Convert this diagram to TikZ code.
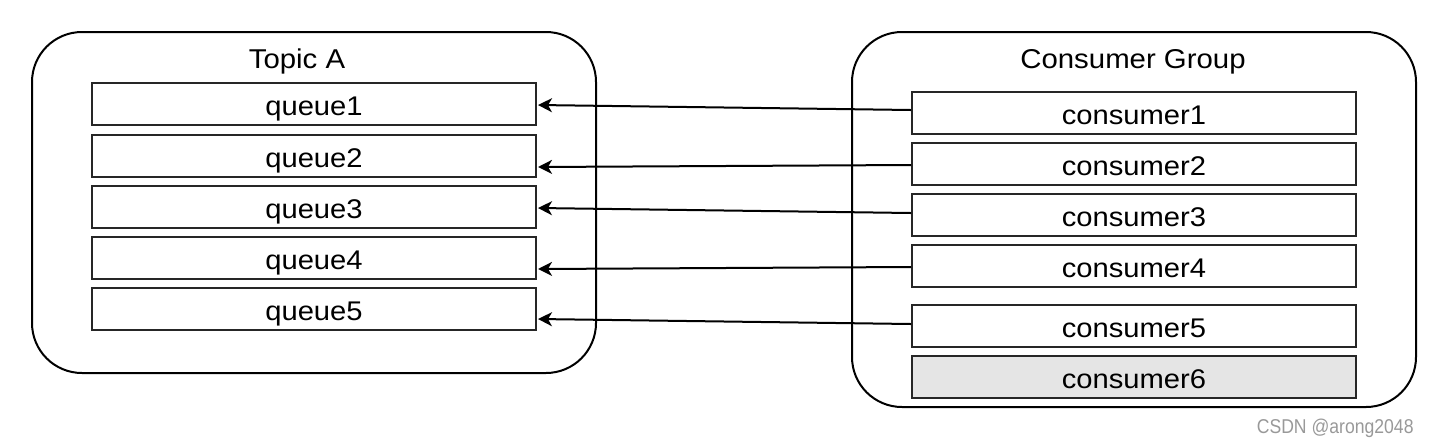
\documentclass[tikz,border=0pt]{standalone}
\usepackage{fontspec}
\setmainfont{Liberation Sans}[FakeStretch=1.08]
\newfontfamily\wmfont{Liberation Sans}[FakeStretch=0.88]
\usetikzlibrary{arrows.meta}
\begin{document}
\begin{tikzpicture}[x=0.5pt,y=-0.5pt,
  container/.style={draw=black,line width=1pt,rounded corners=25pt},
  itembox/.style={draw=black!85,line width=1pt,fill=white,minimum width=222pt,minimum height=21pt,
    inner sep=0pt,text height=11.5pt,text depth=0pt,font=\fontsize{13.5pt}{15pt}\selectfont},
  idlebox/.style={itembox,fill=black!10},
  title/.style={font=\fontsize{13.6pt}{15pt}\selectfont,anchor=base,inner sep=0pt},
  arr/.style={line width=1pt,-{Stealth[length=7pt,width=7pt,inset=2pt]}},
  wm/.style={font=\wmfont\fontsize{10pt}{11pt}\selectfont,text=black!40,anchor=base east,inner sep=0pt}]
\useasboundingbox (0,0) rectangle (1430,446);
% containers
\draw[container] (32,32) rectangle (596,373);
\draw[container] (852,32) rectangle (1416,407);
\node[title] (topic) at (297,68) {Topic A};
\node[title] (group) at (1133,68) {Consumer Group};
% queues
\node[itembox] (q1) at (314,104) {queue1};
\node[itembox] (q2) at (314,156) {queue2};
\node[itembox] (q3) at (314,207) {queue3};
\node[itembox] (q4) at (314,258) {queue4};
\node[itembox] (q5) at (314,309) {queue5};
% consumers
\node[itembox] (c1) at (1134,113) {consumer1};
\node[itembox] (c2) at (1134,164) {consumer2};
\node[itembox] (c3) at (1134,215) {consumer3};
\node[itembox] (c4) at (1134,266) {consumer4};
\node[itembox] (c5) at (1134,326) {consumer5};
\node[idlebox] (c6) at (1134,377) {consumer6};
% arrows
\draw[arr] ([yshift=1.5pt]c1.west) -- ([yshift=-0.5pt,xshift=0.5pt]q1.east);
\draw[arr] ([yshift=-0.5pt]c2.west) -- ([yshift=-5.5pt,xshift=0.5pt]q2.east);
\draw[arr] ([yshift=1pt]c3.west) -- ([yshift=-0.5pt,xshift=0.5pt]q3.east);
\draw[arr] ([yshift=-0.5pt]c4.west) -- ([yshift=-5.5pt,xshift=0.5pt]q4.east);
\draw[arr] ([yshift=1pt]c5.west) -- ([yshift=-5pt,xshift=0.5pt]q5.east);
% watermark
\node[wm] (mark) at (1414,433) {CSDN @arong2048};
\end{tikzpicture}
\end{document}
